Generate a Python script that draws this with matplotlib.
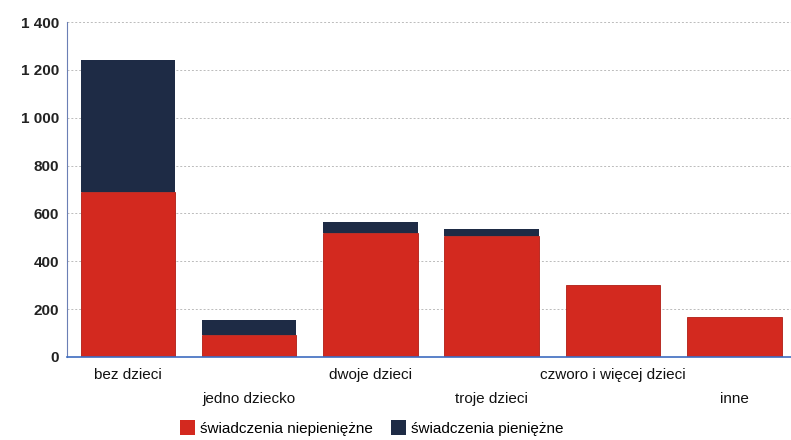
import matplotlib.pyplot as plt
from matplotlib.patches import Patch

# Data
categories = ['bez dzieci', 'jedno dziecko', 'dwoje dzieci', 'troje dzieci',
              'czworo i więcej dzieci', 'inne']
niepieniezne = [690, 92, 517, 505, 302, 167]
pieniezne = [552, 62, 45, 28, 0, 0]
yticks = [0, 200, 400, 600, 800, 1000, 1200, 1400]
ytick_labels = ['0', '200', '400', '600', '800', '1 000', '1 200', '1 400']

red = '#d3291f'
navy = '#1e2b45'

plt.rcParams['font.family'] = ['Liberation Sans', 'DejaVu Sans']

fig = plt.figure(figsize=(7.91, 4.40), dpi=100)
ax = fig.add_axes([0.085, 0.189, 0.92, 0.761])

x = list(range(len(categories)))
ax.bar(x, niepieniezne, width=0.78, color=red, edgecolor='#b01c14', linewidth=0.6, zorder=2)
ax.bar(x, pieniezne, width=0.78, bottom=niepieniezne, color=navy, linewidth=0, zorder=2)

ax.set_xlim(-0.5, 5.5)
ax.set_ylim(0, 1400)
ax.set_yticks(yticks)
ax.set_yticklabels(ytick_labels, fontsize=11, fontweight='bold', color='#222222')
ax.yaxis.grid(True, color='#bbbbbb', linestyle=(0, (2, 2)), linewidth=0.7, zorder=0)

ax.set_xticks(x)
ax.set_xticklabels([])
for i, name in enumerate(categories):
    off = -0.055 if i % 2 == 0 else -0.125
    ax.text(i, off, name, transform=ax.get_xaxis_transform(), ha='center', va='center',
            fontsize=11, color='#111111')

ax.tick_params(length=0, pad=6)
for s in ['top', 'right']:
    ax.spines[s].set_visible(False)
ax.spines['left'].set_color('#6b7fb5')
ax.spines['bottom'].set_color('#3d6cc0')
ax.spines['bottom'].set_linewidth(1.2)

handles = [Patch(facecolor=red, label='świadczenia niepieniężne'),
           Patch(facecolor=navy, label='świadczenia pieniężne')]
fig.legend(handles=handles, loc='center', bbox_to_anchor=(0.47, 0.028), ncol=2,
           frameon=False, fontsize=11, handlelength=1.0, handleheight=1.2,
           handletextpad=0.3, columnspacing=1.2)

fig.savefig('out.png', dpi=100)
